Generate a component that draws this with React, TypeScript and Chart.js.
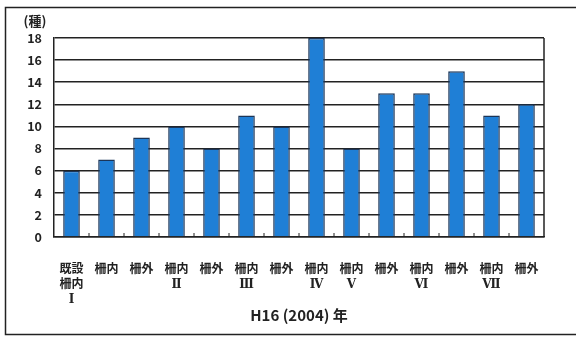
import React, { useEffect, useRef } from "react";
import { Chart, registerables } from "chart.js";

Chart.register(...registerables);

// Survey plots: first line of each label, plus the plot number underneath
const plotNames: string[][] = [
  ["既設", "柵内", "Ⅰ"],
  ["柵内"],
  ["柵外"],
  ["柵内", "Ⅱ"],
  ["柵外"],
  ["柵内", "Ⅲ"],
  ["柵外"],
  ["柵内", "Ⅳ"],
  ["柵内", "Ⅴ"],
  ["柵外"],
  ["柵内", "Ⅵ"],
  ["柵外"],
  ["柵内", "Ⅶ"],
  ["柵外"],
];

// Number of species found in each plot
const speciesCounts: number[] = [6, 7, 9, 10, 8, 11, 10, 18, 8, 13, 13, 15, 11, 12];

const yTicks: number[] = [0, 2, 4, 6, 8, 10, 12, 14, 16, 18];
const unitLabel = "(種)";
const yearLabel = "H16 (2004) 年";

const FONT = '"Liberation Sans Narrow", "Noto Sans CJK JP", "DejaVu Sans", sans-serif';
const CJK_FONT = '"Noto Sans CJK JP", "DejaVu Sans", sans-serif';
// serif numerals for plot numbers, kanji fall back to the CJK font
const LABEL_FONT = '"DejaVu Serif", "Noto Sans CJK JP", sans-serif';

// Frame around the whole figure, right edge of the plot, small category ticks and unit label
const decorations = {
  id: "decorations",
  afterDraw(chart: Chart) {
    const { ctx, chartArea, scales } = chart;
    const x = scales.x;
    ctx.save();
    ctx.strokeStyle = "#222";
    ctx.lineWidth = 1.5;
    // outer frame
    ctx.strokeRect(5.5, 7.5, chart.width - 4, chart.height - 11);
    // right edge of plot
    ctx.beginPath();
    ctx.moveTo(chartArea.right, chartArea.top);
    ctx.lineTo(chartArea.right, chartArea.bottom);
    ctx.stroke();
    // inward tick marks between categories
    ctx.lineWidth = 1;
    for (let i = 1; i < speciesCounts.length; i++) {
      const bx = (x.getPixelForValue(i - 1) + x.getPixelForValue(i)) / 2;
      ctx.beginPath();
      ctx.moveTo(bx, chartArea.bottom);
      ctx.lineTo(bx, chartArea.bottom - 4);
      ctx.stroke();
    }
    // unit label above the y axis
    ctx.fillStyle = "#222";
    ctx.font = `bold 13px ${CJK_FONT}`;
    ctx.textAlign = "center";
    ctx.textBaseline = "middle";
    ctx.fillText(unitLabel, scales.y.right - 19, chartArea.top - 17);
    ctx.restore();
  },
};

export default function App() {
  const canvasRef = useRef<HTMLCanvasElement | null>(null);

  useEffect(() => {
    if (!canvasRef.current) return;
    const chart = new Chart(canvasRef.current, {
      type: "bar",
      data: {
        labels: plotNames,
        datasets: [
          {
            data: speciesCounts,
            backgroundColor: "#1f7fd6",
            borderColor: "#1b3558",
            borderWidth: 1.5,
            barPercentage: 0.95,
            categoryPercentage: 0.5,
          },
        ],
      },
      options: {
        animation: false,
        responsive: false,
        maintainAspectRatio: false,
        layout: { padding: { left: 0, right: 32, top: 38, bottom: 0 } },
        plugins: {
          legend: { display: false },
          tooltip: { enabled: false },
        },
        scales: {
          x: {
            grid: { display: false, drawTicks: false },
            border: { display: true, color: "#222", width: 1.5 },
            ticks: {
              color: "#222",
              padding: 25,
              font: { family: LABEL_FONT, size: 12, weight: "bold", lineHeight: 1.25 },
              maxRotation: 0,
              autoSkip: false,
            },
            title: {
              display: true,
              text: yearLabel,
              color: "#222",
              font: { family: CJK_FONT, size: 15, weight: "bold", lineHeight: 1.2 },
              padding: { top: 0, bottom: 14 },
            },
            afterFit(scale: any) {
              scale.height = 101;
            },
          },
          y: {
            min: 0,
            max: 18,
            afterBuildTicks(scale: any) {
              scale.ticks = yTicks.map((v) => ({ value: v }));
            },
            grid: { color: "#222", lineWidth: 1.5, drawTicks: false },
            border: { display: true, color: "#222", width: 1.5 },
            ticks: {
              color: "#222",
              padding: 12,
              font: { family: FONT, size: 12.5, weight: "bold" },
            },
            afterFit(scale: any) {
              scale.width = 54;
            },
          },
        },
      },
      plugins: [decorations],
    });
    return () => chart.destroy();
  }, []);

  return (
    <div style={{ position: "fixed", left: 0, top: 0, width: 576, height: 338, background: "#fff" }}>
      <canvas ref={canvasRef} width={576} height={338} style={{ display: "block" }} />
    </div>
  );
}
